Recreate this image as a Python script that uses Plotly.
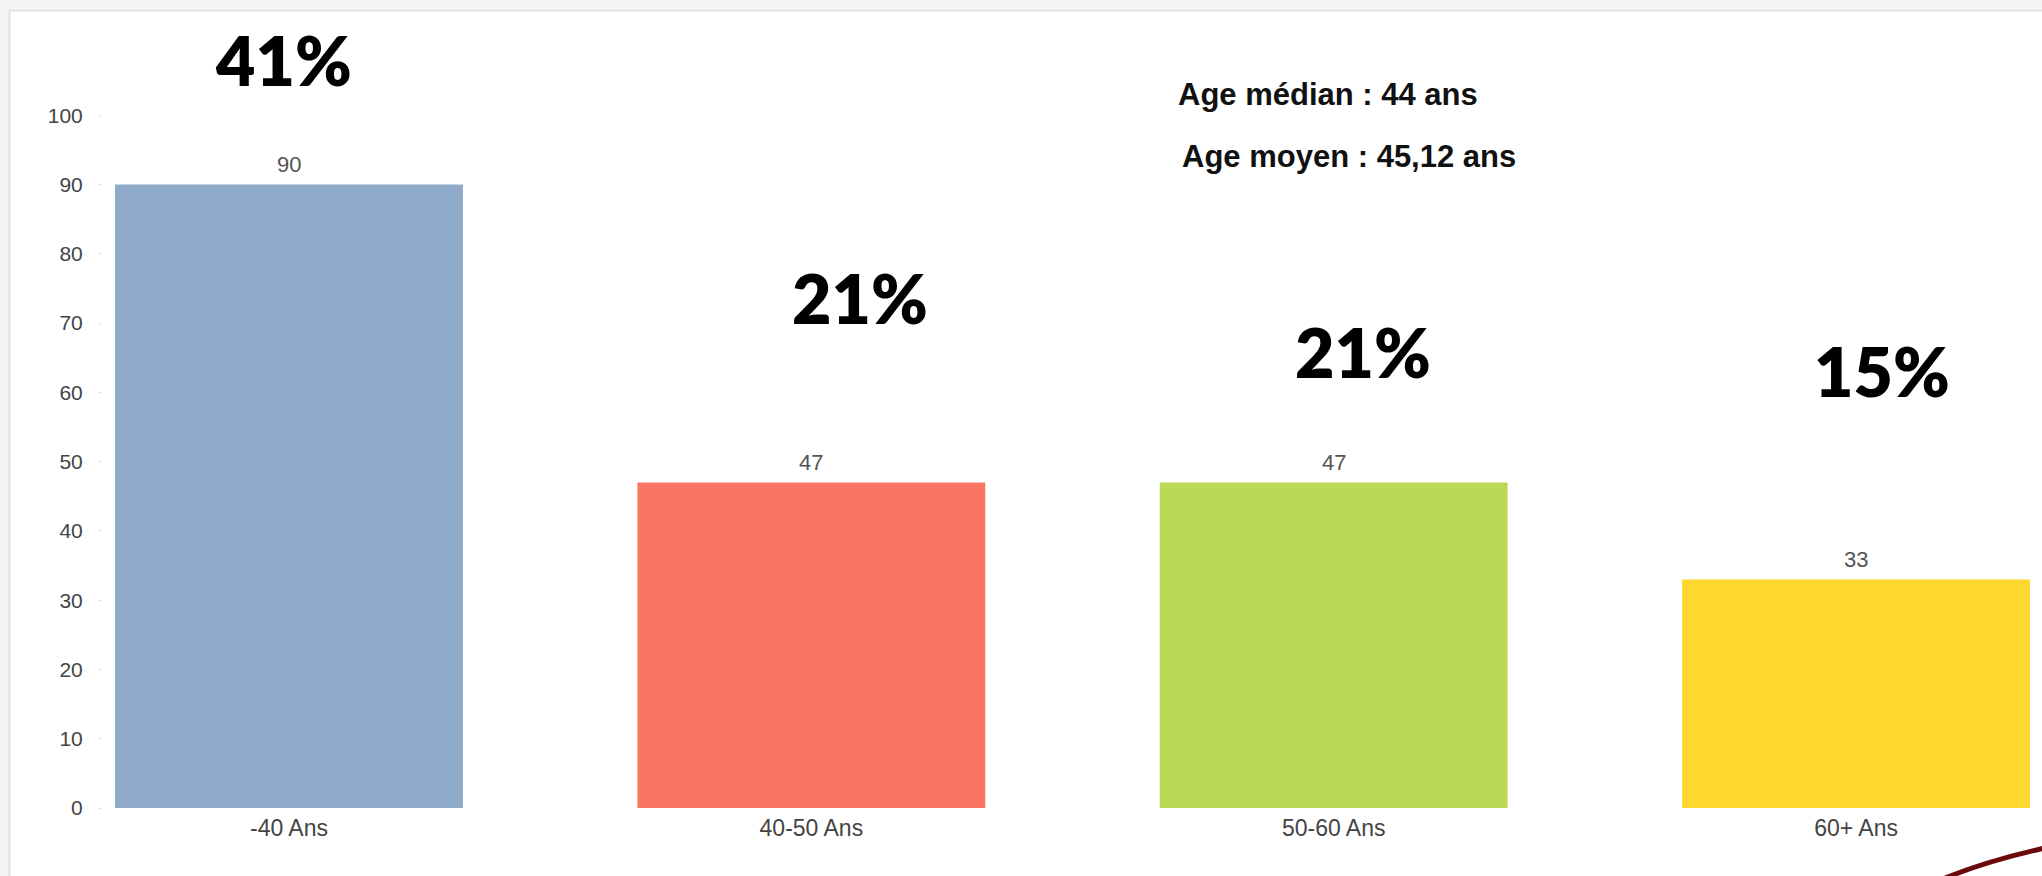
import plotly.graph_objects as go

# ---- data ----
categories = ["-40 Ans", "40-50 Ans", "50-60 Ans", "60+ Ans"]
counts = [90, 47, 47, 33]
pct_labels = ["41%", "21%", "21%", "15%"]
bar_colors = ["#8EA9C9", "#FC7462", "#BCD955", "#FFD82F"]
y_ticks = [0, 10, 20, 30, 40, 50, 60, 70, 80, 90, 100]
stats_lines = ["Age médian : 44 ans", "Age moyen : 45,12 ans"]

W, H = 2042, 876
ML, MR, MT, MB = 102, 0, 46, 68
PW, PH = W - ML - MR, H - MT - MB


def px(x):
    return (x - ML) / PW


def py(y):
    return (H - MB - y) / PH


fig = go.Figure()
fig.add_trace(go.Bar(
    x=list(range(len(categories))), y=counts,
    marker=dict(color=bar_colors, line=dict(width=0)),
    width=0.666, hoverinfo="skip",
))

annotations = []
# value labels above bars
for i, v in enumerate(counts):
    annotations.append(dict(
        x=i, y=v, xref="x", yref="y", text=str(v), showarrow=False,
        yanchor="middle", yshift=20,
        font=dict(family="Liberation Sans, Arial", size=22, color="#555555"),
    ))

# big percentage labels
pct_pos = [(283, 59), (860, 297), (1363, 351), (1882, 371)]
for lab, (x0, y0) in zip(pct_labels, pct_pos):
    annotations.append(dict(
        x=px(x0), y=py(y0), xref="paper", yref="paper", text=lab,
        showarrow=False, xanchor="center", yanchor="middle",
        font=dict(family="Lato, Noto Sans", size=68, color="#000000", weight=800),
    ))

# stats text
stat_pos = [(1176, 94), (1180, 156)]
for t, (x0, y0) in zip(stats_lines, stat_pos):
    annotations.append(dict(
        x=px(x0), y=py(y0), xref="paper", yref="paper", text="<b>" + t + "</b>",
        showarrow=False, xanchor="left", yanchor="middle",
        font=dict(family="Liberation Sans, Arial", size=31, color="#111111"),
    ))

shapes = [
    # card background with light border
    dict(type="rect", xref="paper", yref="paper", layer="below",
         x0=px(9.5), x1=px(W + 20), y0=py(H + 20), y1=py(10.5),
         fillcolor="#ffffff", line=dict(color="#e2e2e2", width=2)),
    # decorative swoosh bottom right
    dict(type="path", xref="paper", yref="paper",
         path=f"M {px(1945)} {py(878)} Q {px(1990)} {py(860)} {px(2045)} {py(848)}",
         line=dict(color="#6b0a0a", width=5)),
]

fig.update_layout(
    width=W, height=H,
    margin=dict(l=ML, r=MR, t=MT, b=MB),
    paper_bgcolor="#f5f5f5", plot_bgcolor="rgba(0,0,0,0)",
    showlegend=False,
    annotations=annotations, shapes=shapes,
    bargap=0.334,
)
fig.update_xaxes(
    range=[-0.358, 3.356], tickvals=list(range(len(categories))), ticktext=categories,
    showgrid=False, zeroline=False, showline=False, ticks="",
    ticklabelstandoff=4,
    tickfont=dict(family="Liberation Sans, Arial", size=23, color="#444444"),
)
fig.update_yaxes(
    range=[0, 110], tickvals=y_ticks,
    showgrid=False, zeroline=False, showline=False,
    ticks="outside", ticklen=2, tickcolor="#d8d8d8", tickwidth=1,
    ticklabelstandoff=12,
    tickfont=dict(family="Liberation Sans, Arial", size=21, color="#444444"),
)

fig.write_html(
    "out.html",
    config={"displayModeBar": False},
    post_script="document.body.style.margin='0';document.body.style.overflow='hidden';",
)
